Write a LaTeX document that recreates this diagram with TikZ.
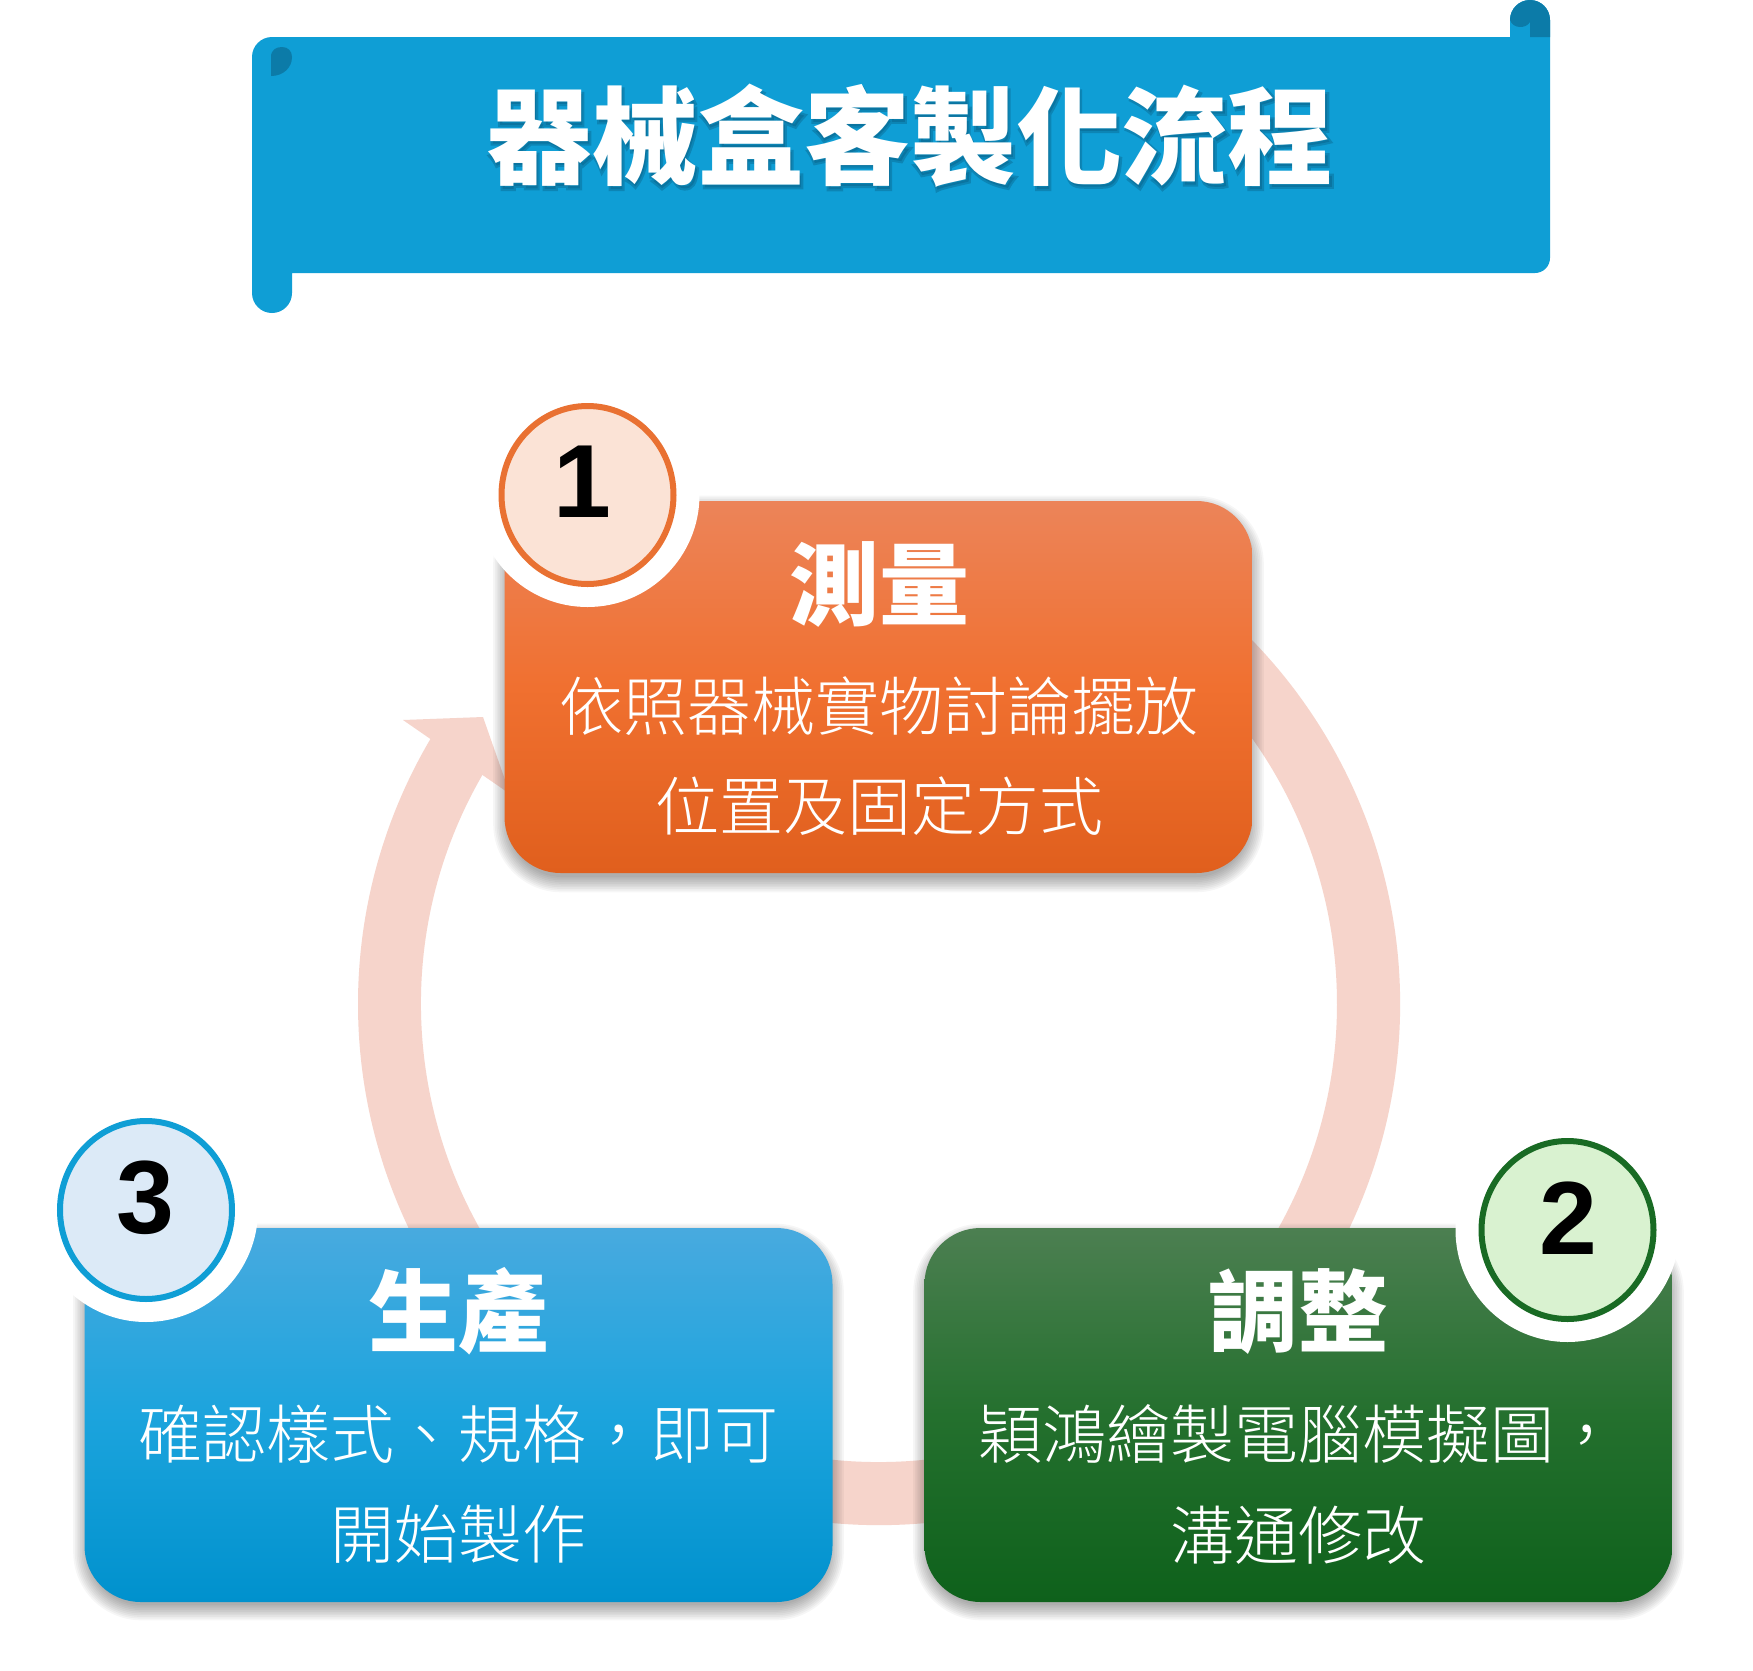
\documentclass[tikz,border=0pt]{standalone}
\usepackage{fontspec}
\newfontfamily\cjk{Noto Sans CJK TC}
\IfFontExistsTF{Noto Sans CJK TC Light}
  {\newfontfamily\cjklight{Noto Sans CJK TC Light}}
  {\newfontfamily\cjklight{Noto Sans CJK TC}}
\IfFontExistsTF{Noto Sans CJK TC Bold}
  {\newfontfamily\cjkglow{Noto Sans CJK TC Bold}[FakeBold=4]}
  {\newfontfamily\cjkglow{Noto Sans CJK TC}[FakeBold=6]}
\newfontfamily\numfont{Liberation Sans}
\usetikzlibrary{shapes.geometric}
\definecolor{banner}{HTML}{0F9ED5}
\definecolor{bannerdark}{HTML}{0C7BA8}
\definecolor{titleshadow}{HTML}{08577A}
\definecolor{ringc}{HTML}{F6D4CB}
\definecolor{oTop}{HTML}{EC8459}
\definecolor{oMid}{HTML}{F07030}
\definecolor{oBot}{HTML}{E05F1D}
\definecolor{bTop}{HTML}{48AADF}
\definecolor{bMid}{HTML}{1CA4DD}
\definecolor{bBot}{HTML}{0091CD}
\definecolor{gTop}{HTML}{4C7F51}
\definecolor{gMid}{HTML}{24702E}
\definecolor{gBot}{HTML}{0E611B}
\definecolor{c1fill}{HTML}{FBE3D6}
\definecolor{c1line}{HTML}{E97132}
\definecolor{c2fill}{HTML}{D9F2D0}
\definecolor{c2line}{HTML}{196B24}
\definecolor{c3fill}{HTML}{DCEAF7}
\definecolor{c3line}{HTML}{0F9ED5}
\newcommand\boxshadow[2]{%
  \foreach \k in {0,...,9}{%
    \pgfmathsetmacro\ee{\k*1.7}%
    \pgfmathsetmacro\rr{(53+\ee)*0.5}%
    \fill[black,opacity=0.035,rounded corners=\rr pt]
      (#1-370-\ee,-#2-183-\ee-7) rectangle (#1+370+\ee,-#2+183+\ee-7);
  }}
\begin{document}
\begin{tikzpicture}[x=0.5pt,y=0.5pt,
  boxshape/.style={rectangle, minimum width=374pt, minimum height=187pt, inner sep=0pt, rounded corners=28pt},
  obox/.style={boxshape, top color=oTop, bottom color=oBot, middle color=oMid},
  bbox/.style={boxshape, top color=bTop, bottom color=bBot, middle color=bMid},
  gbox/.style={boxshape, top color=gTop, bottom color=gBot, middle color=gMid},
  halo/.style={circle, fill=white, minimum size=112pt, inner sep=0pt},
  numc/.style={ellipse, minimum width=86pt, minimum height=89pt, inner sep=0pt, line width=3pt},
  numtxt/.style={font=\numfont\bfseries\fontsize{52pt}{52pt}\selectfont, text=black, inner sep=0pt},
  headtxt/.style={font=\cjk\bfseries\fontsize{45pt}{45pt}\selectfont, text=white, inner sep=0pt},
  bodytxt/.style={font=\cjklight\fontsize{32pt}{32pt}\selectfont, text=white, inner sep=0pt},
  titletxt/.style={font=\cjk\bfseries\fontsize{53pt}{53pt}\selectfont, inner sep=0pt},
  glowtxt/.style={font=\cjkglow\fontsize{53pt}{53pt}\selectfont, inner sep=0pt, text=titleshadow, opacity=0.35},
  ringfill/.style={fill=ringc}
]
\useasboundingbox (0,0) rectangle (1753,-1671);
\fill[white] (0,0) rectangle (1753,-1671);

% banner
\fill[banner] (252,-57) arc[start angle=180, end angle=90, radius=20] -- (1510,-37) -- (1510,-20)
  arc[start angle=180, end angle=0, radius=20] -- (1550,-258)
  arc[start angle=0, end angle=-90, radius=15] -- (292,-273) -- (292,-293)
  arc[start angle=0, end angle=-180, radius=20] -- cycle;
\fill[bannerdark] (1510,-20) arc[start angle=180, end angle=0, radius=20] -- (1550,-37) -- (1530,-37) -- (1530,-22)
  .. controls (1526,-29) and (1513,-29) .. (1510,-20) -- cycle;
\fill[bannerdark] (271,-76) -- (271,-57) .. controls (271,-50) and (276,-47) .. (282,-47)
  .. controls (288,-47) and (292,-51) .. (292,-57) .. controls (292,-68) and (283,-76) .. (271,-76) -- cycle;
\node[glowtxt] (titleglow) at (912,-139) {器械盒客製化流程};
\node[titletxt, text=white] (title) at (910,-136) {器械盒客製化流程};

% cycle ring with arrow head
\fill[ringfill] ([shift={(879,-1004)}]70:521) arc[start angle=70, end angle=-212, radius=521]
  -- ([shift={(879,-1004)}]-212:458) arc[start angle=-212, end angle=70, radius=458] -- cycle;
\fill[ringfill] (403,-720) -- (483,-717) -- (510,-794) -- cycle;

% shadows
\boxshadow{878.5}{687}
\boxshadow{458.5}{1415}
\boxshadow{1298.5}{1415}

% boxes
\node[obox, minimum height=186pt] (b1) at (878.5,-687) {};
\node[bbox] (b3) at (458.5,-1415) {};
\node[gbox] (b2) at (1298.5,-1415) {};

% halos and number circles
\node[halo] (h1) at (587.5,-495) {};
\node[halo] (h2) at (1567.5,-1230) {};
\node[halo] (h3) at (146,-1210) {};
\node[numc, fill=c1fill, draw=c1line] (n1) at (587.5,-495) {};
\node[numc, fill=c2fill, draw=c2line] (n2) at (1567.5,-1230) {};
\node[numc, fill=c3fill, draw=c3line] (n3) at (146,-1210) {};
\node[numtxt] (d1) at (582,-482) {1};
\node[numtxt] (d2) at (1568,-1218) {2};
\node[numtxt] (d3) at (145.5,-1198) {3};

% texts
\node[headtxt] (t1) at (879,-584.5) {測量};
\node[bodytxt] (t1a) at (879,-706) {依照器械實物討論擺放};
\node[bodytxt] (t1b) at (879,-806) {位置及固定方式};
\node[headtxt] (t2) at (1298,-1312) {調整};
\node[bodytxt] (t2a) at (1298,-1434) {穎鴻繪製電腦模擬圖，};
\node[bodytxt] (t2b) at (1298,-1535) {溝通修改};
\node[headtxt] (t3) at (458.5,-1311) {生產};
\node[bodytxt] (t3a) at (458.5,-1434) {確認樣式、規格，即可};
\node[bodytxt] (t3b) at (458.5,-1534) {開始製作};
\end{tikzpicture}
\end{document}
